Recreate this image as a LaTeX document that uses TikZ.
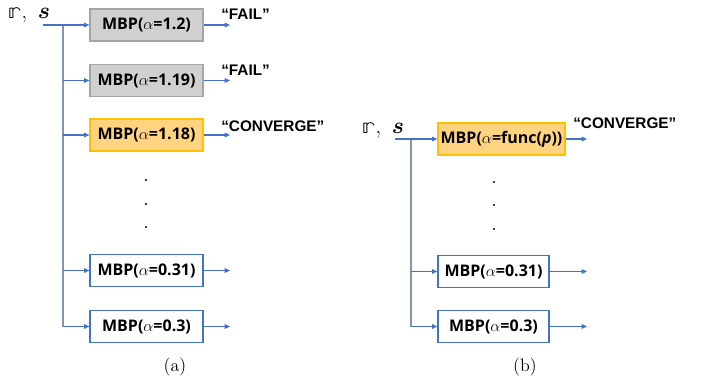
\documentclass[tikz,border=0pt]{standalone}
\usepackage{amsmath}
\usepackage{fontspec}
\usetikzlibrary{arrows.meta,calc}
\newfontfamily\boxfont{Open Sans}
\newfontfamily\quotefont{Liberation Sans}
\newfontfamily\bbfont{latinmodern-math.otf}

\definecolor{flowblue}{HTML}{4472C4}
\definecolor{trunkblue}{HTML}{8497B0}
\definecolor{failfill}{HTML}{D0D0D0}
\definecolor{failline}{HTML}{A5A5A5}
\definecolor{convfill}{HTML}{FFD37F}
\definecolor{convline}{HTML}{FFC000}

\tikzset{
  mbp/.style={draw, line width=0.9pt, minimum height=24pt, inner sep=0pt,
    font=\boxfont\bfseries\fontsize{12}{14}\selectfont},
  failbox/.style={mbp, draw=failline, fill=failfill, minimum width=84.75pt},
  convbox/.style={mbp, draw=convline, fill=convfill},
  openbox/.style={mbp, draw=flowblue, fill=white},
  flow/.style={draw=flowblue, line width=0.8pt, -{Triangle[length=4pt,width=3.5pt]}},
  trunk/.style={draw=trunkblue, line width=1.2pt},
  verdict/.style={anchor=base west, inner sep=0pt, font=\quotefont\bfseries\fontsize{11.5}{13}\selectfont},
  inputs/.style={anchor=base west, inner sep=0pt, font=\fontsize{18}{20}\selectfont},
  caption/.style={font=\fontsize{13.5}{16}\selectfont}
}

\begin{document}
\begin{tikzpicture}[x=0.75pt, y=-0.75pt]
  \useasboundingbox (0,0) rectangle (704,385);

  %%%%% (a) fixed alpha sweep %%%%%

  \node[inputs] (ina) at (8,19) {{\bbfont 𝕣},\;\,$\boldsymbol{s}$};
  \coordinate (ina0) at (44,24);
  \coordinate (ta) at (63,24);

  \node[failbox] (a1) at (146.5,25) {MBP($\alpha$=1.2)};
  \node[failbox] (a2) at (146.5,80.5) {MBP($\alpha$=1.19)};
  \node[convbox, minimum width=84.75pt] (a3) at (146.5,135) {MBP($\alpha$=1.18)};
  \node[openbox, minimum width=84.75pt] (a4) at (146.5,270.5) {MBP($\alpha$=0.31)};
  \node[openbox, minimum width=84.75pt] (a5) at (146.5,326.5) {MBP($\alpha$=0.3)};

  \fill (146,180) circle (1.2);
  \fill (146,204) circle (1.2);
  \fill (146,227) circle (1.2);

  \draw[trunk] (ta) -- (ta |- a5);
  \draw[flow] (ina0) -- (ina0 |- a1) -- (a1.west);
  \draw[flow] (ta |- a2) -- (a2.west);
  \draw[flow] (ta |- a3) -- (a3.west);
  \draw[flow] (ta |- a4) -- (a4.west);
  \draw[flow] (ta |- a5) -- (a5.west);

  \coordinate (oa1) at (230,25);
  \draw[flow] (a1.east) -- (oa1 |- a1);
  \draw[flow] (a2.east) -- (oa1 |- a2);
  \draw[flow] (a3.east) -- (oa1 |- a3);
  \draw[flow] (a4.east) -- (oa1 |- a4);
  \draw[flow] (a5.east) -- (oa1 |- a5);

  \node[verdict] (va1) at (221,20) {“FAIL”};
  \node[verdict] (va2) at (221,75.5) {“FAIL”};
  \node[verdict] (va3) at (221,132) {“CONVERGE”};

  \node[caption] (capa) at (175,367) {(a)};

  %%%%% (b) adaptive alpha %%%%%

  \node[inputs] (inb) at (362,134) {{\bbfont 𝕣},\;\,$\boldsymbol{s}$};
  \coordinate (inb0) at (395,139);
  \coordinate (tb) at (411,139);

  \node[convbox, minimum width=95.25pt] (b1) at (501.5,139) {MBP($\alpha$=func(\textit{p}))};
  \node[openbox, minimum width=83.25pt] (b2) at (493.5,271.5) {MBP($\alpha$=0.31)};
  \node[openbox, minimum width=83.25pt] (b3) at (493.5,326.5) {MBP($\alpha$=0.3)};

  \fill (494,182) circle (1.2);
  \fill (494,205) circle (1.2);
  \fill (494,229) circle (1.2);

  \draw[trunk] (tb) -- (tb |- b3);
  \draw[flow] (inb0) -- (b1.west);
  \draw[flow] (tb |- b2) -- (b2.west);
  \draw[flow] (tb |- b3) -- (b3.west);

  \coordinate (ob1) at (587,139);
  \draw[flow] (b1.east) -- (ob1);
  \draw[flow] (b2.east) -- (ob1 |- b2);
  \draw[flow] (b3.east) -- (ob1 |- b3);

  \node[verdict] (vb1) at (573,128) {“CONVERGE”};

  \node[caption] (capb) at (525,367) {(b)};
\end{tikzpicture}
\end{document}
